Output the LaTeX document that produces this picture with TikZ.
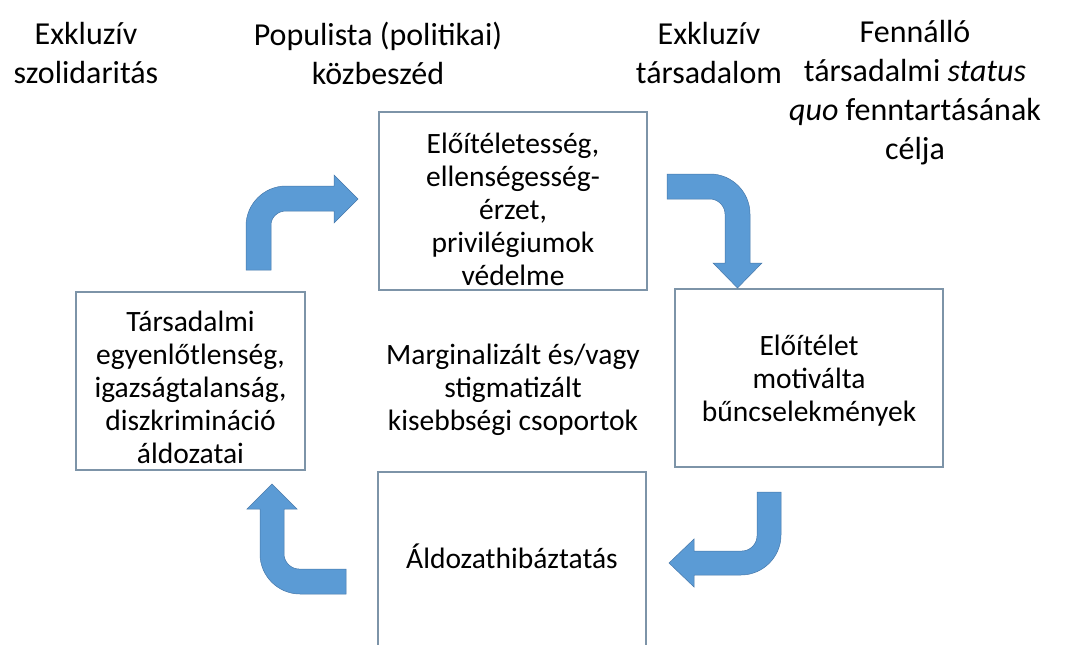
\documentclass[tikz,border=0pt]{standalone}
\usepackage{fontspec}
\setmainfont{Carlito}
\definecolor{arrowfill}{RGB}{91,155,213}
\definecolor{arrowline}{RGB}{70,120,170}
\definecolor{boxline}{RGB}{125,148,168}
\tikzset{
  box/.style={draw=boxline, line width=1.1pt, fill=white, inner sep=0pt},
  boxtext/.style={align=center, inner sep=0pt, font=\fontsize{29.5}{33}\selectfont},
  title/.style={align=center, inner sep=0pt, font=\fontsize{32}{39}\selectfont},
  blockarrow/.style={fill=arrowfill, draw=arrowline, line width=0.5pt, line join=miter}
}
\begin{document}
\begin{tikzpicture}[x=1pt,y=-1pt]
\useasboundingbox (0,0) rectangle (1074,645);
% titles
\node[title] (t1) at (86,53) {Exkluzív\\szolidaritás};
\node[title] (t2) at (378,53) {Populista (politikai)\\közbeszéd};
\node[title] (t3) at (709,53) {Exkluzív\\társadalom};
\node[title] (t4) at (915,93) {Fennálló\\társadalmi \textit{status}\\\textit{quo} fenntartásának\\célja};
% boxes
\node[box, minimum width=268pt, minimum height=178pt] (top) at (513,201) {};
\node[box, minimum width=229pt, minimum height=178pt] (left) at (190.5,381) {};
\node[box, minimum width=268pt, minimum height=178pt] (right) at (809,378) {};
\node[box, minimum width=268pt, minimum height=188pt] (bottom) at (512,566) {};
% box texts
\node[boxtext] (toptext) at ([yshift=-8pt]top.center)
  {Előítéletesség,\\ellenségesség-\\érzet,\\privilégiumok\\védelme};
\node[boxtext] (lefttext) at ([yshift=-6pt]left.center)
  {Társadalmi\\egyenlőtlenség,\\igazságtalanság,\\diszkrimináció\\áldozatai};
\node[boxtext] (righttext) at ([yshift=-3pt]right.center)
  {Előítélet\\motiválta\\bűncselekmények};
\node[boxtext] (bottomtext) at ([yshift=10pt]bottom.center) {Áldozathibáztatás};
\node[boxtext] (center) at (513,390)
  {Marginalizált és/vagy\\stigmatizált\\kisebbségi csoportok};
% arrow 1: up then right
\path[blockarrow] (246,270) -- (246,226) .. controls (246,204) and (264,186) .. (286,186)
  -- (334,186) -- (334,175) -- (358,199) -- (334,223) -- (334,211) -- (286,211)
  .. controls (278,211) and (271,217) .. (271,225) -- (271,270) -- cycle;
% arrow 2: right then down
\path[blockarrow] (667,174) -- (710,174) .. controls (732,174) and (750,192) .. (750,214)
  -- (750,263) -- (762,263) -- (737.5,288) -- (713,263) -- (725,263) -- (725,214)
  .. controls (725,206) and (718,199) .. (710,199) -- (667,199) -- cycle;
% arrow 3: down then left
\path[blockarrow] (781,492) -- (781,535) .. controls (781,557) and (763,575) .. (741,575)
  -- (694,575) -- (694,587) -- (669,563) -- (694,539) -- (694,551) -- (742,551)
  .. controls (750,551) and (757,544) .. (757,536) -- (757,492) -- cycle;
% arrow 4: left then up
\path[blockarrow] (346,594) -- (300,594) .. controls (278,594) and (260,576) .. (260,554)
  -- (260,509) -- (247,509) -- (272,484) -- (297,509) -- (284,509) -- (284,554)
  .. controls (284,562) and (291,569) .. (299,569) -- (346,569) -- cycle;
\end{tikzpicture}
\end{document}
